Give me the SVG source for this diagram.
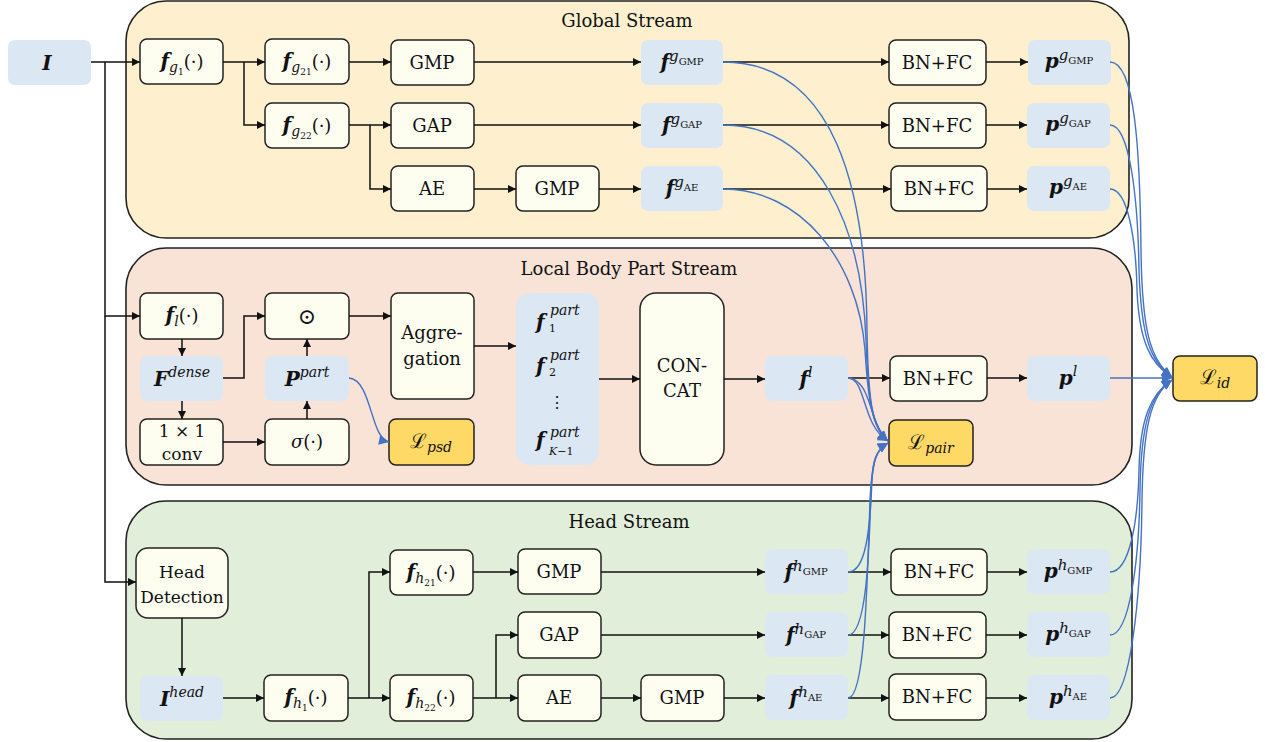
<svg xmlns="http://www.w3.org/2000/svg" width="1265" height="742" viewBox="0 0 1265 742">
<defs>
<style>
text{font-family:'DejaVu Serif',serif;fill:#111}
.panel{stroke:#222;stroke-width:1.6}
.box{fill:#FEFEF0;stroke:#222;stroke-width:1.5}
.feat{fill:#DCE7F4}
.loss{fill:#FFD966;stroke:#222;stroke-width:1.5}
.lbl{font-size:18px;text-anchor:middle}
.ttl{font-size:18px;text-anchor:middle}
.m{text-anchor:middle}
.s{text-anchor:start}
.bi{font-weight:bold;font-style:italic}
.it{font-style:italic}
.conn{fill:none;stroke:#111;stroke-width:1.5;marker-end:url(#ah)}
.bluea{fill:none;stroke:#4472C4;stroke-width:1.4;marker-end:url(#bh)}
</style>
<marker id="ah" viewBox="0 0 10 10" refX="10" refY="5" markerWidth="10" markerHeight="8" markerUnits="userSpaceOnUse" orient="auto"><path d="M0,0 L10,5 L0,10 z" fill="#111"/></marker>
<marker id="bh" viewBox="0 0 10 10" refX="10" refY="5" markerWidth="12" markerHeight="10" markerUnits="userSpaceOnUse" orient="auto"><path d="M0,0 L10,5 L0,10 z" fill="#4472C4"/></marker>
</defs>

<g id="panel-global">
<rect class="panel" x="126" y="1" width="1003" height="237" rx="40" fill="#FEF0CF"/>
<text class="ttl" x="627" y="27">Global Stream</text>
</g>
<g id="panel-local">
<rect class="panel" x="126" y="248" width="1006" height="237" rx="40" fill="#F9E3D7"/>
<text class="ttl" x="629" y="275">Local Body Part Stream</text>
</g>
<g id="panel-head">
<rect class="panel" x="126" y="501" width="1006" height="238" rx="40" fill="#E1EED9"/>
<text class="ttl" x="629" y="528">Head Stream</text>
</g>

<g id="n-I"><rect class="feat" x="8" y="40" width="83" height="45" rx="7"/>
<text class="m bi" x="47" y="70" font-size="20">I</text></g>

<g id="n-fg1"><rect class="box" x="140" y="39" width="83" height="45" rx="7"/>
<text class="m" x="182" y="68"><tspan class="bi" font-size="20">f</tspan><tspan class="it" font-size="14" dy="4">g</tspan><tspan font-size="9" dy="3">1</tspan><tspan font-size="18" dy="-7">(·)</tspan></text></g>
<g id="n-fg21"><rect class="box" x="265" y="39" width="84" height="45" rx="7"/>
<text class="m" x="307" y="68"><tspan class="bi" font-size="20">f</tspan><tspan class="it" font-size="14" dy="4">g</tspan><tspan font-size="9" dy="3">21</tspan><tspan font-size="18" dy="-7">(·)</tspan></text></g>
<g id="n-fg22"><rect class="box" x="265" y="103" width="84" height="45" rx="7"/>
<text class="m" x="307" y="132"><tspan class="bi" font-size="20">f</tspan><tspan class="it" font-size="14" dy="4">g</tspan><tspan font-size="9" dy="3">22</tspan><tspan font-size="18" dy="-7">(·)</tspan></text></g>
<g id="n-gmp1"><rect class="box" x="391" y="40" width="83" height="45" rx="7"/><text class="lbl" x="432" y="69">GMP</text></g>
<g id="n-gap1"><rect class="box" x="391" y="103" width="83" height="45" rx="7"/><text class="lbl" x="432" y="132">GAP</text></g>
<g id="n-ae1"><rect class="box" x="391" y="166" width="83" height="45" rx="7"/><text class="lbl" x="432" y="195">AE</text></g>
<g id="n-gmp2"><rect class="box" x="516" y="166" width="83" height="45" rx="7"/><text class="lbl" x="557" y="195">GMP</text></g>
<g id="n-fgGMP"><rect class="feat" x="641" y="40" width="82" height="45" rx="7"/>
<text class="m" x="682" y="69"><tspan class="bi" font-size="20">f</tspan><tspan class="it" font-size="15" dy="-8">g</tspan><tspan font-size="10" dy="4">GMP</tspan></text></g>
<g id="n-fgGAP"><rect class="feat" x="641" y="103" width="82" height="45" rx="7"/>
<text class="m" x="682" y="132"><tspan class="bi" font-size="20">f</tspan><tspan class="it" font-size="15" dy="-8">g</tspan><tspan font-size="10" dy="4">GAP</tspan></text></g>
<g id="n-fgAE"><rect class="feat" x="641" y="166" width="82" height="45" rx="7"/>
<text class="m" x="682" y="195"><tspan class="bi" font-size="20">f</tspan><tspan class="it" font-size="15" dy="-8">g</tspan><tspan font-size="10" dy="4">AE</tspan></text></g>
<g id="n-bnfc1"><rect class="box" x="889" y="40" width="97" height="45" rx="7"/><text class="lbl" x="937" y="69">BN+FC</text></g>
<g id="n-bnfc2"><rect class="box" x="889" y="103" width="97" height="45" rx="7"/><text class="lbl" x="937" y="132">BN+FC</text></g>
<g id="n-bnfc3"><rect class="box" x="891" y="166" width="96" height="45" rx="7"/><text class="lbl" x="939" y="195">BN+FC</text></g>
<g id="n-pgGMP"><rect class="feat" x="1028" y="40" width="83" height="45" rx="7"/>
<text class="m" x="1069" y="68"><tspan class="bi" font-size="20">p</tspan><tspan class="it" font-size="15" dy="-8">g</tspan><tspan font-size="10" dy="4">GMP</tspan></text></g>
<g id="n-pgGAP"><rect class="feat" x="1027" y="103" width="83" height="45" rx="7"/>
<text class="m" x="1068" y="131"><tspan class="bi" font-size="20">p</tspan><tspan class="it" font-size="15" dy="-8">g</tspan><tspan font-size="10" dy="4">GAP</tspan></text></g>
<g id="n-pgAE"><rect class="feat" x="1027" y="166" width="83" height="45" rx="7"/>
<text class="m" x="1068" y="194"><tspan class="bi" font-size="20">p</tspan><tspan class="it" font-size="15" dy="-8">g</tspan><tspan font-size="10" dy="4">AE</tspan></text></g>

<g id="n-fl"><rect class="box" x="140" y="293" width="83" height="46" rx="7"/>
<text class="m" x="182" y="322"><tspan class="bi" font-size="20">f</tspan><tspan class="it" font-size="14" dy="4">l</tspan><tspan font-size="18" dy="-4">(·)</tspan></text></g>
<g id="n-Fdense"><rect class="feat" x="140" y="356" width="83" height="45" rx="7"/>
<text class="m" x="182" y="386"><tspan class="bi" font-size="20">F</tspan><tspan class="it" font-size="14" dy="-9">dense</tspan></text></g>
<g id="n-conv"><rect class="box" x="140" y="419" width="83" height="46" rx="7"/>
<text class="m" x="182" y="437" font-size="17">1 × 1</text><text class="m" x="182" y="460" font-size="17">conv</text></g>
<g id="n-odot"><rect class="box" x="265" y="293" width="84" height="46" rx="7"/>
<text class="m" x="307" y="324" font-size="22">⊙</text></g>
<g id="n-Ppart"><rect class="feat" x="265" y="356" width="84" height="45" rx="7"/>
<text class="m" x="307" y="386"><tspan class="bi" font-size="20">P</tspan><tspan class="it" font-size="14" dy="-9">part</tspan></text></g>
<g id="n-sigma"><rect class="box" x="265" y="419" width="84" height="46" rx="7"/>
<text class="m" x="307" y="448"><tspan class="it" font-size="18">σ</tspan><tspan font-size="18">(·)</tspan></text></g>
<g id="n-agg"><rect class="box" x="391" y="293" width="83" height="106" rx="7"/>
<text class="lbl" x="432" y="339">Aggre-</text><text class="lbl" x="432" y="365">gation</text></g>
<g id="n-Lpsd"><rect class="loss" x="389" y="419" width="85" height="46" rx="7"/>
<text class="m" x="431" y="448"><tspan font-size="20">ℒ</tspan><tspan class="it" font-size="14" dy="4">psd</tspan></text></g>
<g id="n-fpart"><rect class="feat" x="516" y="293" width="83" height="172" rx="14"/>
<text class="s bi" x="536" y="329" font-size="20">f</text><text class="s it" x="550" y="315" font-size="14">part</text><text class="s" x="549" y="332" font-size="11">1</text>
<text class="s bi" x="536" y="373" font-size="20">f</text><text class="s it" x="550" y="360" font-size="14">part</text><text class="s" x="549" y="376" font-size="11">2</text>
<text class="m" x="557" y="408" font-size="16">⋮</text>
<text class="s bi" x="536" y="447" font-size="20">f</text><text class="s it" x="550" y="437" font-size="14">part</text><text class="s" x="549" y="455" font-size="11"><tspan class="it">K</tspan>−1</text></g>
<g id="n-concat"><rect class="box" x="640" y="293" width="84" height="172" rx="16"/>
<text class="lbl" x="682" y="372">CON-</text><text class="lbl" x="682" y="397">CAT</text></g>
<g id="n-fl2"><rect class="feat" x="765" y="356" width="83" height="45" rx="7"/>
<text class="m" x="806" y="386"><tspan class="bi" font-size="20">f</tspan><tspan class="it" font-size="14" dy="-9">l</tspan></text></g>
<g id="n-bnfcl"><rect class="box" x="890" y="356" width="97" height="45" rx="7"/><text class="lbl" x="938" y="385">BN+FC</text></g>
<g id="n-pl"><rect class="feat" x="1027" y="356" width="83" height="45" rx="7"/>
<text class="m" x="1068" y="385"><tspan class="bi" font-size="20">p</tspan><tspan class="it" font-size="14" dy="-9">l</tspan></text></g>
<g id="n-Lpair"><rect class="loss" x="889" y="420" width="84" height="46" rx="7"/>
<text class="m" x="931" y="449"><tspan font-size="20">ℒ</tspan><tspan class="it" font-size="14" dy="4">pair</tspan></text></g>
<g id="n-Lid"><rect class="loss" x="1173" y="356" width="84" height="45" rx="7"/>
<text class="m" x="1215" y="384"><tspan font-size="20">ℒ</tspan><tspan class="it" font-size="14" dy="4">id</tspan></text></g>

<g id="n-hdet"><rect class="box" x="136" y="548" width="92" height="70" rx="12"/>
<text class="m" x="182" y="578" font-size="17">Head</text><text class="m" x="182" y="603" font-size="17">Detection</text></g>
<g id="n-Ihead"><rect class="feat" x="140" y="676" width="83" height="45" rx="7"/>
<text class="m" x="182" y="706"><tspan class="bi" font-size="20">I</tspan><tspan class="it" font-size="14" dy="-9">head</tspan></text></g>
<g id="n-fh1"><rect class="box" x="264" y="675" width="84" height="46" rx="7"/>
<text class="m" x="306" y="704"><tspan class="bi" font-size="20">f</tspan><tspan class="it" font-size="14" dy="4">h</tspan><tspan font-size="9" dy="3">1</tspan><tspan font-size="18" dy="-7">(·)</tspan></text></g>
<g id="n-fh21"><rect class="box" x="390" y="550" width="83" height="45" rx="7"/>
<text class="m" x="431" y="579"><tspan class="bi" font-size="20">f</tspan><tspan class="it" font-size="14" dy="4">h</tspan><tspan font-size="9" dy="3">21</tspan><tspan font-size="18" dy="-7">(·)</tspan></text></g>
<g id="n-fh22"><rect class="box" x="390" y="675" width="83" height="46" rx="7"/>
<text class="m" x="431" y="704"><tspan class="bi" font-size="20">f</tspan><tspan class="it" font-size="14" dy="4">h</tspan><tspan font-size="9" dy="3">22</tspan><tspan font-size="18" dy="-7">(·)</tspan></text></g>
<g id="n-hgmp1"><rect class="box" x="518" y="549" width="83" height="45" rx="7"/><text class="lbl" x="559" y="578">GMP</text></g>
<g id="n-hgap"><rect class="box" x="518" y="612" width="83" height="46" rx="7"/><text class="lbl" x="559" y="641">GAP</text></g>
<g id="n-hae"><rect class="box" x="518" y="675" width="83" height="46" rx="7"/><text class="lbl" x="559" y="704">AE</text></g>
<g id="n-hgmp2"><rect class="box" x="641" y="675" width="83" height="46" rx="7"/><text class="lbl" x="682" y="704">GMP</text></g>
<g id="n-fhGMP"><rect class="feat" x="765" y="549" width="83" height="45" rx="7"/>
<text class="m" x="806" y="579"><tspan class="bi" font-size="20">f</tspan><tspan class="it" font-size="15" dy="-8">h</tspan><tspan font-size="10" dy="4">GMP</tspan></text></g>
<g id="n-fhGAP"><rect class="feat" x="765" y="612" width="83" height="45" rx="7"/>
<text class="m" x="806" y="642"><tspan class="bi" font-size="20">f</tspan><tspan class="it" font-size="15" dy="-8">h</tspan><tspan font-size="10" dy="4">GAP</tspan></text></g>
<g id="n-fhAE"><rect class="feat" x="765" y="675" width="83" height="45" rx="7"/>
<text class="m" x="806" y="705"><tspan class="bi" font-size="20">f</tspan><tspan class="it" font-size="15" dy="-8">h</tspan><tspan font-size="10" dy="4">AE</tspan></text></g>
<g id="n-hbnfc1"><rect class="box" x="891" y="549" width="96" height="46" rx="7"/><text class="lbl" x="939" y="578">BN+FC</text></g>
<g id="n-hbnfc2"><rect class="box" x="889" y="612" width="97" height="46" rx="7"/><text class="lbl" x="937" y="641">BN+FC</text></g>
<g id="n-hbnfc3"><rect class="box" x="889" y="674" width="97" height="46" rx="7"/><text class="lbl" x="937" y="703">BN+FC</text></g>
<g id="n-phGMP"><rect class="feat" x="1027" y="549" width="83" height="45" rx="7"/>
<text class="m" x="1068" y="578"><tspan class="bi" font-size="20">p</tspan><tspan class="it" font-size="15" dy="-8">h</tspan><tspan font-size="10" dy="4">GMP</tspan></text></g>
<g id="n-phGAP"><rect class="feat" x="1027" y="612" width="83" height="45" rx="7"/>
<text class="m" x="1068" y="641"><tspan class="bi" font-size="20">p</tspan><tspan class="it" font-size="15" dy="-8">h</tspan><tspan font-size="10" dy="4">GAP</tspan></text></g>
<g id="n-phAE"><rect class="feat" x="1027" y="675" width="83" height="45" rx="7"/>
<text class="m" x="1068" y="704"><tspan class="bi" font-size="20">p</tspan><tspan class="it" font-size="15" dy="-8">h</tspan><tspan font-size="10" dy="4">AE</tspan></text></g>

<g id="connectors">
<path class="conn" d="M91,62 H140"/>
<path class="conn" d="M105,62 V316 H140"/>
<path class="conn" d="M105,316 V582 H136"/>
<path class="conn" d="M223,62 H265"/>
<path class="conn" d="M244,62 V125 H265"/>
<path class="conn" d="M349,62 H391"/>
<path class="conn" d="M349,125 H391"/>
<path class="conn" d="M370,125 V189 H391"/>
<path class="conn" d="M474,62 H641"/>
<path class="conn" d="M474,125 H641"/>
<path class="conn" d="M474,189 H516"/>
<path class="conn" d="M599,189 H641"/>
<path class="conn" d="M723,62 H889"/>
<path class="conn" d="M723,125 H889"/>
<path class="conn" d="M723,189 H891"/>
<path class="conn" d="M986,62 H1028"/>
<path class="conn" d="M986,125 H1027"/>
<path class="conn" d="M987,189 H1027"/>
<path class="conn" d="M182,339 V356"/>
<path class="conn" d="M182,401 V419"/>
<path class="conn" d="M223,378 H244 V316 H265"/>
<path class="conn" d="M223,442 H265"/>
<path class="conn" d="M307,419 V401"/>
<path class="conn" d="M307,356 V339"/>
<path class="conn" d="M349,316 H391"/>
<path class="conn" d="M474,346 H516"/>
<path class="conn" d="M599,379 H640"/>
<path class="conn" d="M724,379 H765"/>
<path class="conn" d="M848,378 H890"/>
<path class="conn" d="M987,378 H1027"/>
<path class="conn" d="M182,618 V676"/>
<path class="conn" d="M223,698 H264"/>
<path class="conn" d="M348,698 H390"/>
<path class="conn" d="M369,698 V572 H390"/>
<path class="conn" d="M473,572 H518"/>
<path class="conn" d="M473,698 H518"/>
<path class="conn" d="M496,698 V635 H518"/>
<path class="conn" d="M601,572 H765"/>
<path class="conn" d="M601,635 H765"/>
<path class="conn" d="M601,698 H641"/>
<path class="conn" d="M724,698 H765"/>
<path class="conn" d="M848,572 H891"/>
<path class="conn" d="M848,635 H889"/>
<path class="conn" d="M848,698 H889"/>
<path class="conn" d="M987,572 H1027"/>
<path class="conn" d="M986,635 H1027"/>
<path class="conn" d="M986,698 H1027"/>
<path class="bluea" d="M349,378 C372,380 370,438 389,442"/>
<path class="bluea" d="M723,62 C835,62 866,190 867,330 C868,400 872,428 888,441"/>
<path class="bluea" d="M723,125 C820,125 862,230 866,340 C868,400 872,428 888,441"/>
<path class="bluea" d="M723,189 C800,189 858,260 865,350 C868,400 872,428 888,441"/>
<path class="bluea" d="M848,378 C866,378 862,426 888,441"/>
<path class="bluea" d="M848,378 C872,380 868,422 888,441"/>
<path class="bluea" d="M848,572 C866,572 870,530 872,480 C873,460 876,450 888,443"/>
<path class="bluea" d="M848,635 C866,635 869,560 871,490 C873,460 876,450 888,443"/>
<path class="bluea" d="M848,698 C864,698 867,600 870,500 C872,460 876,450 888,443"/>
<path class="bluea" d="M1110,62 C1135,62 1140,150 1141,250 C1142,330 1150,360 1172,377"/>
<path class="bluea" d="M1110,125 C1130,125 1138,200 1139,270 C1141,335 1150,362 1172,377"/>
<path class="bluea" d="M1110,189 C1128,189 1136,240 1137,290 C1139,340 1150,364 1172,377"/>
<path class="bluea" d="M1110,378 H1172"/>
<path class="bluea" d="M1110,572 C1130,572 1138,520 1139,470 C1140,420 1150,394 1172,380"/>
<path class="bluea" d="M1110,635 C1130,635 1139,560 1140,490 C1141,425 1150,394 1172,380"/>
<path class="bluea" d="M1110,698 C1130,698 1141,600 1142,500 C1143,430 1150,395 1172,380"/>
</g>
</svg>
